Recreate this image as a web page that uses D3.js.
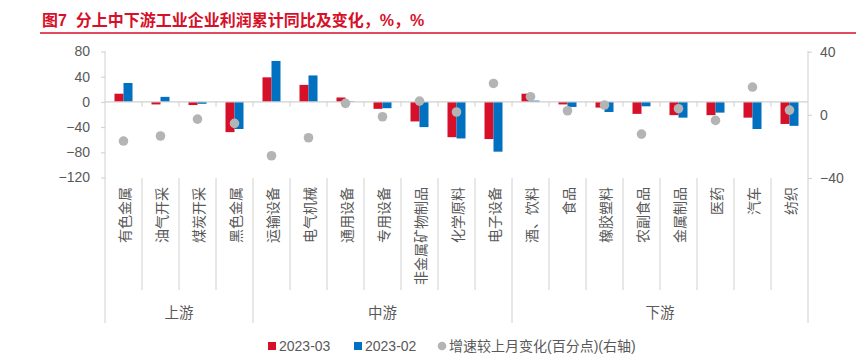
<html>
<head>
<style>
  body { margin: 0; background: #fff; }
  text { font-family: "Liberation Sans", "Noto Sans CJK SC", sans-serif; }
</style>
</head>
<body>
<svg id="chart" width="856" height="363"></svg>
<script src="https://d3js.org/d3.v7.min.js"></script>
<script>
// categories and groups
const categories = ["有色金属", "油气开采", "煤炭开采", "黑色金属",
  "运输设备", "电气机械", "通用设备", "专用设备", "非金属矿物制品", "化学原料", "电子设备",
  "酒、饮料", "食品", "橡胶塑料", "农副食品", "金属制品", "医药", "汽车", "纺织"]
const groupNames = ["上游", "中游", "下游"]
const groupSizes = [4, 7, 8]

// values, %
const mar2023 = [13, -4, -5, -48, 39, 27, 7, -11, -31, -56, -59, 13, -4, -9, -19, -21, -21, -25, -35]
const feb2023 = [30, 8, -3, -43, 65, 42, 1, -10, -40, -58, -79, 2, -8, -16, -7, -25, -17, -43, -38]
const change = [-16.6, -13.4, -2.7, -5.4, -25.9, -14.5, 7.3, -1.2, 8.7, 1.8, 19.9, 11.5, 2.6, 6.2, -12.2, 3.9, -3.5, 17.6, 3]

const leftTicks = [80, 40, 0, -40, -80, -120]
const rightTicks = [40, 0, -40]

const red = "#d7102a", blue = "#0070c0", grey = "#b4b4b4"
const textColor = "#595959", lineColor = "#d0d0d0"

const svg = d3.select("#chart")

// title
svg.append("text")
  .attr("x", 42).attr("y", 26)
  .attr("fill", red)
  .attr("font-size", 16)
  .attr("font-weight", "bold")
  .attr("xml:space", "preserve")
  .text("图7  分上中下游工业企业利润累计同比及变化，%，%")
svg.append("line")
  .attr("x1", 40).attr("x2", 856).attr("y1", 33).attr("y2", 33)
  .attr("stroke", red).attr("stroke-width", 1.5)

const x = d3.scaleBand().domain(categories).range([105, 808])
const xs = d3.scaleBand().domain(["mar", "feb"]).range([-9, 9])
const yL = d3.scaleLinear().domain([-120, 80]).range([177.5, 51.5])
const yR = d3.scaleLinear().domain([-40, 40]).range([178, 51.7])

// left axis
const leftAxis = svg.append("g")
  .attr("transform", "translate(105,0)")
  .call(d3.axisLeft(yL).tickValues(leftTicks).tickSize(4).tickPadding(11))
leftAxis.select(".domain").remove()
leftAxis.selectAll("line").attr("stroke", lineColor)
leftAxis.selectAll("text").attr("fill", textColor).attr("font-size", 14)
  .attr("font-family", "Liberation Sans, sans-serif")

// right axis
const rightAxis = svg.append("g")
  .attr("transform", "translate(808,0)")
  .call(d3.axisRight(yR).tickValues(rightTicks).tickSize(4).tickPadding(8))
rightAxis.select(".domain").remove()
rightAxis.selectAll("line").attr("stroke", lineColor)
rightAxis.selectAll("text").attr("fill", textColor).attr("font-size", 14)
  .attr("font-family", "Liberation Sans, sans-serif")

// vertical axis lines
svg.append("line").attr("x1", 105).attr("x2", 105).attr("y1", 51).attr("y2", 323)
  .attr("stroke", lineColor)
svg.append("line").attr("x1", 808).attr("x2", 808).attr("y1", 51).attr("y2", 323)
  .attr("stroke", lineColor)

// bars
const bars = svg.append("g")
bars.selectAll(".mar").data(mar2023).join("rect")
  .attr("x", (d, i) => x(categories[i]) + x.bandwidth() / 2 + xs("mar"))
  .attr("width", xs.bandwidth())
  .attr("y", d => yL(Math.max(0, d)))
  .attr("height", d => Math.abs(yL(d) - yL(0)))
  .attr("fill", red)
bars.selectAll(".feb").data(feb2023).join("rect")
  .attr("x", (d, i) => x(categories[i]) + x.bandwidth() / 2 + xs("feb"))
  .attr("width", xs.bandwidth())
  .attr("y", d => yL(Math.max(0, d)))
  .attr("height", d => Math.abs(yL(d) - yL(0)))
  .attr("fill", blue)

// zero line and ticks
svg.append("line").attr("x1", 105).attr("x2", 808)
  .attr("y1", yL(0)).attr("y2", yL(0)).attr("stroke", lineColor).attr("stroke-width", 1.2)
svg.append("g").selectAll("line").data(categories.slice(1)).join("line")
  .attr("x1", d => x(d)).attr("x2", d => x(d))
  .attr("y1", yL(0)).attr("y2", yL(0) + 5)
  .attr("stroke", lineColor)

// dots
svg.append("g").selectAll("circle").data(change).join("circle")
  .attr("cx", (d, i) => x(categories[i]) + x.bandwidth() / 2)
  .attr("cy", d => yR(d))
  .attr("r", 4.8)
  .attr("fill", grey)

// category labels, rotated, reading upward
svg.append("g").selectAll("text").data(categories).join("text")
  .attr("transform", d => `translate(${x(d) + x.bandwidth() / 2 + 1},187) rotate(-90)`)
  .attr("text-anchor", "end")
  .attr("dominant-baseline", "central")
  .attr("font-size", 14)
  .attr("fill", textColor)
  .attr("font-family", "Noto Sans CJK SC, sans-serif")
  .text(d => d)

// category separators and group separators
let start = 0
const groupStarts = groupSizes.map(n => { const s = start; start += n; return s })
svg.append("g").selectAll("line").data(categories.slice(1)).join("line")
  .attr("x1", d => x(d)).attr("x2", d => x(d))
  .attr("y1", 178)
  .attr("y2", (d, i) => groupStarts.includes(i + 1) ? 323 : 290)
  .attr("stroke", lineColor)

svg.append("g").selectAll("text").data(groupNames).join("text")
  .attr("x", (d, i) => {
    const a = x(categories[groupStarts[i]])
    const b = x(categories[groupStarts[i] + groupSizes[i] - 1]) + x.bandwidth()
    return (a + b) / 2
  })
  .attr("y", 318)
  .attr("text-anchor", "middle")
  .attr("font-size", 14.5)
  .attr("fill", textColor)
  .attr("font-family", "Noto Sans CJK SC, sans-serif")
  .text(d => d)

// legend
const legend = svg.append("g")
const legendItems = [
  { label: "2023-03", color: red, shape: "rect", x: 268 },
  { label: "2023-02", color: blue, shape: "rect", x: 354 },
  { label: "增速较上月变化(百分点)(右轴)", color: grey, shape: "circle", x: 438 }
]
legendItems.forEach(item => {
  if (item.shape === "rect") {
    legend.append("rect").attr("x", item.x).attr("y", 342).attr("width", 8).attr("height", 8)
      .attr("fill", item.color)
  } else {
    legend.append("circle").attr("cx", item.x + 4).attr("cy", 346).attr("r", 4.3)
      .attr("fill", item.color)
  }
  legend.append("text").attr("x", item.x + 11).attr("y", 351)
    .attr("font-size", 14).attr("fill", textColor)
    .text(item.label)
})
</script>
</body>
</html>
